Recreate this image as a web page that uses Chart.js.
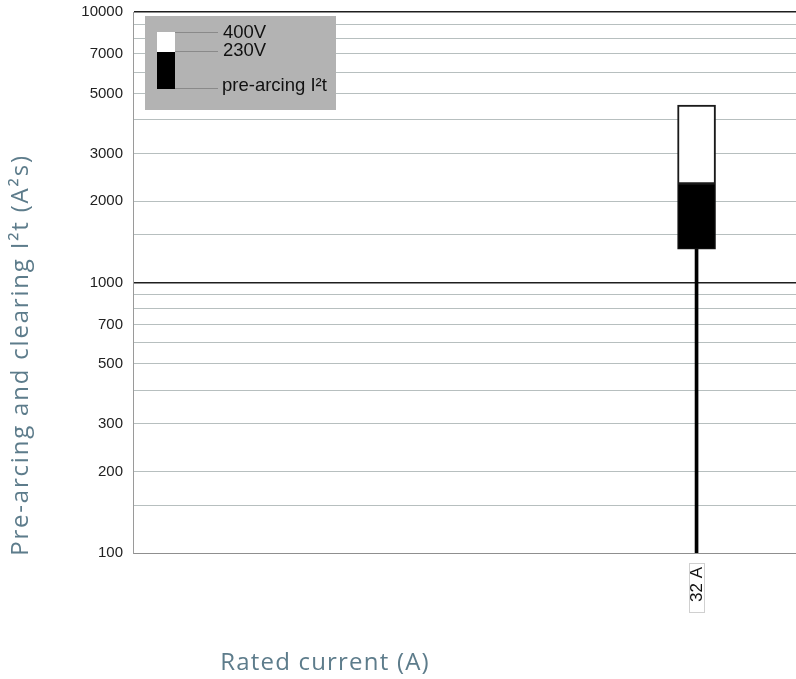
<!DOCTYPE html>
<html>
<head>
<meta charset="utf-8">
<script src="https://cdn.jsdelivr.net/npm/chart.js@4.4.1/dist/chart.umd.min.js"></script>
<style>
  html, body { margin: 0; padding: 0; background: #fff; }
  #wrap { width: 796px; height: 679px; }
</style>
</head>
<body>
<div id="wrap"><canvas id="grafico" width="796" height="679"></canvas></div>
<script>
// categorias do eixo x (so o 32 A tem valor)
const categorias = ['', '', '', '', '', '', '', '', '32 A', ''];
// valores I2t (A2s)
const pre_arcing = [null, null, null, null, null, null, null, null, 1327, null];
const clearing_230 = [null, null, null, null, null, null, null, null, 2313, null];
const clearing_400 = [null, null, null, null, null, null, null, null, 4530, null];
const y_min = 100;
const y_max = 10000;
// linhas de grade e rotulos do eixo y
const linhas_y = [100, 150, 200, 300, 400, 500, 600, 700, 800, 900, 1000, 1500, 2000, 3000, 4000, 5000, 6000, 7000, 8000, 9000, 10000];
const rotulos_y = [100, 200, 300, 500, 700, 1000, 2000, 3000, 5000, 7000, 10000];
const linhas_fortes = [1000, 10000];

const titulo_y = 'Pre-arcing and clearing I\u00b2t (A\u00b2s)';
const titulo_x = 'Rated current (A)';
const legenda = ['400V', '230V', 'pre-arcing I\u00b2t'];

function faixa(de, ate){
    return de.map(function(v, i){
        if (v === null) return null;
        return [v, ate[i]];
    });
}

const cor_titulo = '#5d7c8b';

const desenhaExtras = {
    id: 'extras',
    afterDraw(chart){
        const ctx = chart.ctx;
        ctx.save();
        // titulos dos eixos
        ctx.fillStyle = cor_titulo;
        ctx.font = '24px "Open Sans"';
        ctx.letterSpacing = '1.2px';
        ctx.textAlign = 'center';
        ctx.textBaseline = 'middle';
        ctx.fillText(titulo_x, 325, 663);
        ctx.translate(21, 355);
        ctx.rotate(-Math.PI / 2);
        ctx.letterSpacing = '1.8px';
        ctx.fillText(titulo_y, 0, 0);
        ctx.restore();

        // moldura do rotulo 32 A
        const xs = chart.scales.x;
        categorias.forEach(function(c, i){
            if (!c) return;
            const px = xs.getPixelForTick(i);
            ctx.save();
            ctx.strokeStyle = '#d0d0d0';
            ctx.lineWidth = 1;
            ctx.strokeRect(Math.round(px) - 7.5, xs.top + 10.5, 15, 49);
            ctx.restore();
        });

        // caixa da legenda
        ctx.save();
        ctx.fillStyle = '#b3b3b3';
        ctx.fillRect(145, 16, 191, 94);
        ctx.fillStyle = '#ffffff';
        ctx.fillRect(157, 32, 18, 20);
        ctx.fillStyle = '#000000';
        ctx.fillRect(157, 52, 18, 37);
        ctx.strokeStyle = '#8a8a8a';
        ctx.lineWidth = 1;
        const ys = [32.5, 51.5, 88.5];
        ys.forEach(function(y){
            ctx.beginPath();
            ctx.moveTo(175, y);
            ctx.lineTo(218, y);
            ctx.stroke();
        });
        ctx.fillStyle = '#111';
        ctx.font = '18.5px "Liberation Sans"';
        ctx.textAlign = 'left';
        ctx.textBaseline = 'middle';
        ctx.fillText(legenda[0], 223, 33);
        ctx.fillText(legenda[1], 223, 51);
        ctx.fillText(legenda[2], 222, 86);
        ctx.restore();
    }
};

const ctx = document.getElementById('grafico').getContext('2d');
const myChart = new Chart(ctx, {
    type: 'bar',
    data: {
        labels: categorias,
        datasets: [{
            label: '400V',
            data: faixa(clearing_230, clearing_400),
            backgroundColor: '#ffffff',
            borderColor: '#1a1a1a',
            borderWidth: 2,
            borderSkipped: false,
            barThickness: 38,
            grouped: false
        }, {
            label: '230V',
            data: faixa(pre_arcing, clearing_230),
            backgroundColor: '#000000',
            borderColor: '#1a1a1a',
            borderWidth: 1,
            borderSkipped: false,
            barThickness: 38,
            grouped: false
        }, {
            label: 'haste',
            data: faixa(pre_arcing.map(function(v){ return v === null ? null : y_min; }), pre_arcing),
            backgroundColor: '#000000',
            borderWidth: 0,
            barThickness: 3,
            grouped: false
        }]
    },
    options: {
        responsive: false,
        animation: false,
        devicePixelRatio: 1,
        layout: { padding: { top: 12, left: 0, right: 0, bottom: 0 } },
        plugins: {
            legend: { display: false },
            tooltip: { enabled: false }
        },
        scales: {
            x: {
                afterFit(scale){ scale.height = 126; scale.paddingLeft = 0; scale.paddingRight = 0; },
                grid: { display: false },
                border: { display: false },
                ticks: {
                    autoSkip: false,
                    minRotation: 90,
                    maxRotation: 90,
                    padding: 6,
                    labelOffset: -9,
                    color: '#111',
                    font: { family: '"Liberation Sans"', size: 17 },
                    showLabelBackdrop: true,
                    backdropColor: '#ffffff',
                    backdropPadding: 1
                }
            },
            y: {
                type: 'logarithmic',
                min: y_min,
                max: y_max,
                afterFit(scale){ scale.width = 133; scale.paddingTop = 0; scale.paddingBottom = 0; },
                afterBuildTicks(scale){
                    scale.ticks = linhas_y.map(function(v){ return { value: v }; });
                },
                border: { display: true, color: '#9a9a9a', width: 1 },
                grid: {
                    drawTicks: false,
                    color: function(c){
                        if (c.tick && linhas_fortes.includes(c.tick.value)) return '#1e1e1e';
                        if (c.tick && c.tick.value === y_min) return '#8f8f8f';
                        return '#b7bfbf';
                    },
                    lineWidth: function(c){
                        if (c.tick && linhas_fortes.includes(c.tick.value)) return 1.5;
                        return 1;
                    }
                },
                ticks: {
                    autoSkip: false,
                    padding: 10,
                    color: '#222',
                    font: { family: '"Liberation Sans"', size: 15 },
                    callback: function(value){
                        return rotulos_y.includes(value) ? String(value) : '';
                    }
                }
            }
        }
    },
    plugins: [desenhaExtras]
});
</script>
</body>
</html>
